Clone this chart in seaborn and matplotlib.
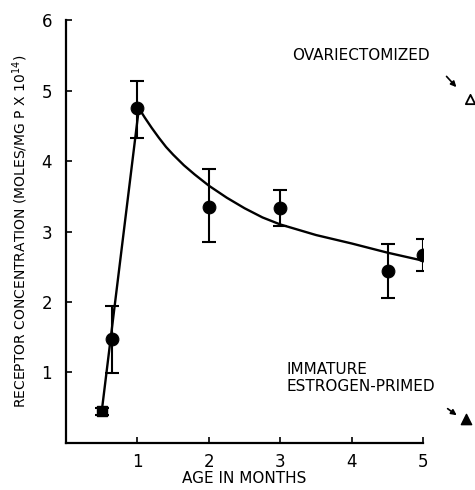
import numpy as np
import pandas as pd
import matplotlib
matplotlib.use("Agg")
import matplotlib.pyplot as plt
import seaborn as sns

# data
age = [0.5, 0.65, 1.0, 2.0, 3.0, 4.5, 5.0]
conc = [0.45, 1.48, 4.75, 3.35, 3.33, 2.44, 2.67]
err_hi = [0.50, 1.94, 5.13, 3.89, 3.59, 2.82, 2.90]
err_lo = [0.40, 0.99, 4.33, 2.85, 3.08, 2.06, 2.44]

curve_x = [0.5, 1.02, 1.1, 1.2, 1.3, 1.4, 1.5, 1.65, 1.8, 2.0, 2.25, 2.5,
           2.75, 3.0, 3.5, 4.0, 4.5, 5.2]
curve_y = [0.45, 4.75, 4.62, 4.47, 4.33, 4.20, 4.09, 3.94, 3.81, 3.65, 3.48,
           3.33, 3.20, 3.10, 2.95, 2.83, 2.70, 2.54]

ovx_x, ovx_y = [5.66], [4.88]
imm_x, imm_y = [5.60], [0.34]

sns.set_style("ticks")
plt.rcParams['font.family'] = ['DejaVu Sans']
plt.rcParams['text.color'] = 'black'
plt.rcParams['axes.labelcolor'] = 'black'
plt.rcParams['xtick.color'] = 'black'
plt.rcParams['ytick.color'] = 'black'

fig = plt.figure(figsize=(4.75, 4.9), dpi=100)
ax = fig.add_axes([0.139, 0.096, 0.752, 0.863])

curve = pd.DataFrame({'x': curve_x, 'y': curve_y})
sns.lineplot(data=curve, x='x', y='y', ax=ax, color='black', lw=1.7, sort=False)

lo = np.array(conc) - np.array(err_lo)
hi = np.array(err_hi) - np.array(conc)
ax.errorbar(age, conc, yerr=[lo, hi], fmt='none', ecolor='black',
            elinewidth=1.5, capsize=5, capthick=1.5)

pts = pd.DataFrame({'age': age[1:], 'conc': conc[1:]})
sns.scatterplot(data=pts, x='age', y='conc', ax=ax, color='black', s=85,
                marker='o', edgecolor='black', zorder=5)
ax.scatter(age[:1], conc[:1], marker='s', s=60, color='black', zorder=5)

# reference groups outside the axes
ax.scatter(ovx_x, ovx_y, marker='^', s=45, facecolor='white',
           edgecolor='black', linewidth=1.3, clip_on=False, zorder=5)
ax.scatter(imm_x, imm_y, marker='^', s=55, color='black', clip_on=False, zorder=5)

ax.annotate('', xy=(5.49, 5.02), xytext=(5.30, 5.23), annotation_clip=False,
            arrowprops=dict(arrowstyle='-|>', color='black', lw=1.2, mutation_scale=8))
ax.annotate('', xy=(5.50, 0.37), xytext=(5.31, 0.51), annotation_clip=False,
            arrowprops=dict(arrowstyle='-|>', color='black', lw=1.2, mutation_scale=8))

ax.text(3.17, 5.50, 'OVARIECTOMIZED', fontsize=11, va='center', ha='left')
ax.text(3.09, 0.92, 'IMMATURE\nESTROGEN-PRIMED', fontsize=11, va='center',
        ha='left', linespacing=1.15)

ax.set_xlim(0, 5)
ax.set_ylim(0, 6)
ax.set_xticks([1, 2, 3, 4, 5])
ax.set_xticklabels(['1', '2', '3', '4', '5'])
ax.set_yticks([1, 2, 3, 4, 5, 6])
ax.set_yticklabels(['1', '2', '3', '4', '5', '6'])
ax.tick_params(direction='in', length=4, width=1.2, labelsize=12)
ax.tick_params(axis='x', pad=7)
ax.tick_params(axis='y', pad=10)
ax.set_xlabel('AGE IN MONTHS', fontsize=11, labelpad=0)
ax.set_ylabel('RECEPTOR CONCENTRATION (MOLES/MG P X 10$^{14}$)', fontsize=10, labelpad=8)

sns.despine(ax=ax)
for s in ['left', 'bottom']:
    ax.spines[s].set_linewidth(1.6)
    ax.spines[s].set_color('black')

fig.savefig('out.png', dpi=100)
